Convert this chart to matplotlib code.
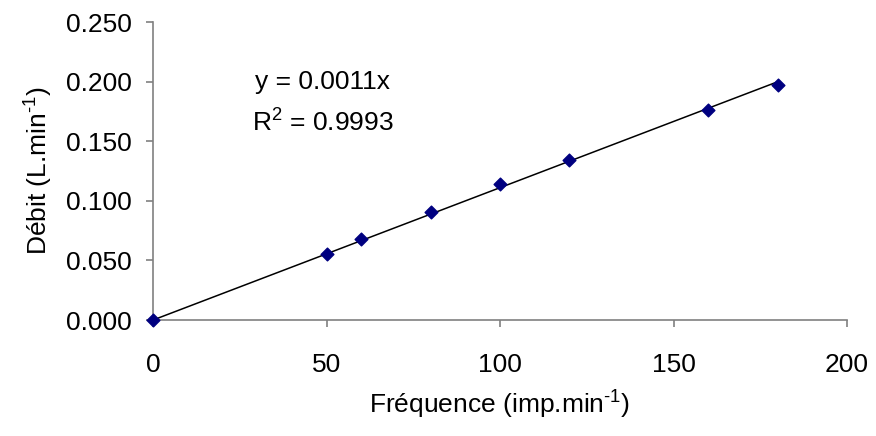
#!/usr/bin/env python3
"""Calibration: débit vs fréquence, with linear trend line through origin."""

import matplotlib
matplotlib.use("Agg")
import matplotlib.pyplot as plt
import numpy as np

plt.rcParams["font.family"] = ["Liberation Sans", "DejaVu Sans"]
plt.rcParams["mathtext.fontset"] = "custom"
plt.rcParams["mathtext.rm"] = "Liberation Sans"
plt.rcParams["mathtext.it"] = "Liberation Sans"
plt.rcParams["mathtext.default"] = "regular"

# Measured points
frequence = [0, 50, 60, 80, 100, 120, 160, 180]
debit = [0.000, 0.0553, 0.0679, 0.0908, 0.1142, 0.1346, 0.1760, 0.1975]

x_ticks = [0, 50, 100, 150, 200]
y_ticks = [0.000, 0.050, 0.100, 0.150, 0.200, 0.250]

eq_text = "y = 0.0011x"
r2_text = "R$^{2}$ = 0.9993"
x_label = r"Fréquence (imp.min$^{\text{-1}}$)"
y_label = r"Débit (L.min$^{\text{-1}}$)"

AXIS_GREY = "#808080"
MARKER_COLOR = "#000080"
FS = 19

x = np.array(frequence, dtype=float)
y = np.array(debit, dtype=float)

# Least squares through the origin (Excel trend line with intercept = 0)
slope = np.sum(x * y) / np.sum(x * x)
x_fit = np.array([x.min(), x.max()])

fig = plt.figure(figsize=(8.76, 4.36), dpi=100)
ax = fig.add_axes([0.1747, 0.266, 0.7923, 0.6835])

ax.plot(x_fit, slope * x_fit, color="black", lw=1.1, zorder=2)
ax.scatter(x, y, marker="D", s=42, color=MARKER_COLOR, zorder=3, clip_on=False)

ax.set_xlim(0, 200)
ax.set_ylim(0, 0.25)
ax.set_xticks(x_ticks)
ax.set_yticks(y_ticks)
ax.set_xticklabels([str(v) for v in x_ticks])
ax.set_yticklabels([f"{v:.3f}" for v in y_ticks])

for side in ("top", "right"):
    ax.spines[side].set_visible(False)
for side in ("left", "bottom"):
    ax.spines[side].set_color(AXIS_GREY)
    ax.spines[side].set_linewidth(1.2)

ax.tick_params(axis="both", direction="out", length=5, width=1.2,
               color=AXIS_GREY, labelsize=FS, labelcolor="black")
ax.tick_params(axis="x", pad=19)
ax.tick_params(axis="y", pad=10)

ax.set_xlabel(x_label, fontsize=FS, labelpad=8)
ax.set_ylabel(y_label, fontsize=FS, labelpad=8)

ax.text(29.4, 0.1997, eq_text, fontsize=FS, ha="left", va="center")
ax.text(28.6, 0.165, r2_text, fontsize=FS, ha="left", va="center")

fig.savefig("out.png", dpi=100)
